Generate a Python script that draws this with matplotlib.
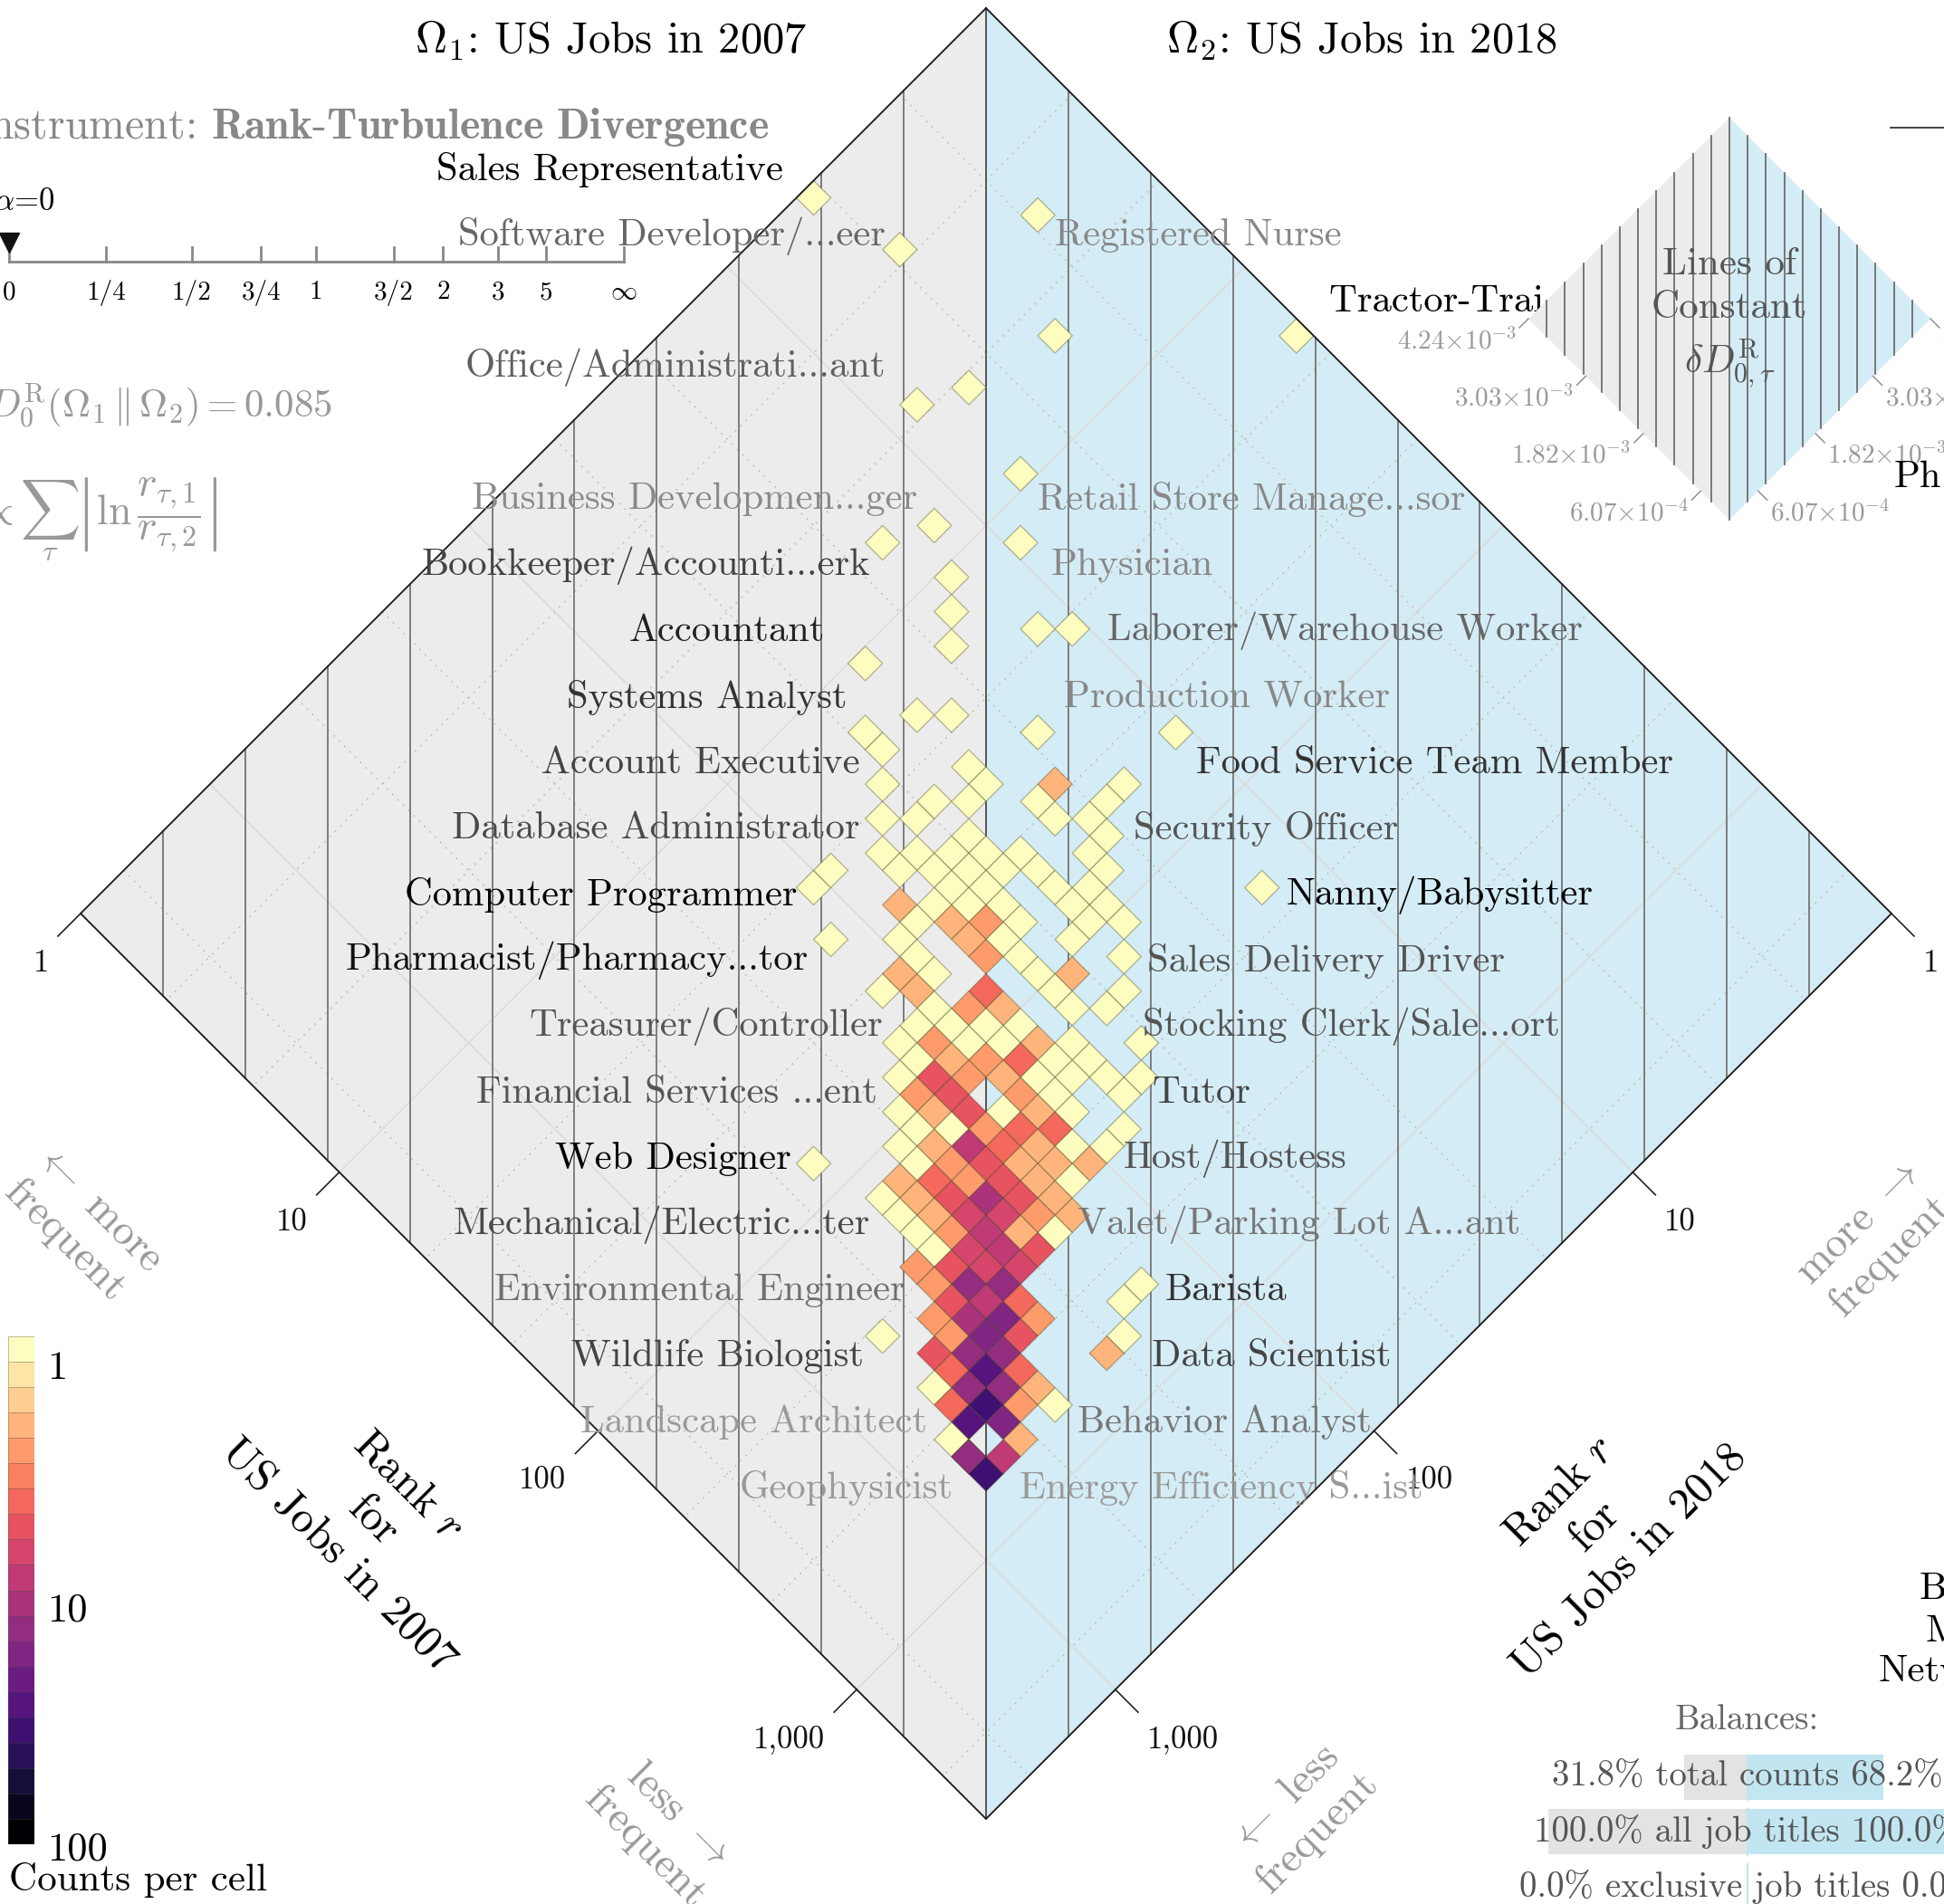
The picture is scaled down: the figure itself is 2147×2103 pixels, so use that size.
import numpy as np
import matplotlib
matplotlib.use('Agg')
import matplotlib.pyplot as plt
from matplotlib.colors import ListedColormap, BoundaryNorm
from matplotlib.transforms import Affine2D
from matplotlib.patches import Polygon, Rectangle
from matplotlib.collections import PolyCollection

plt.rcParams['font.family'] = ['cmr10']
plt.rcParams['mathtext.fontset'] = 'cm'
plt.rcParams['axes.unicode_minus'] = False

# ---------------------------------------------------------------- data
# occupied histogram cells: log10-rank bin (15 bins per decade) in 2007 / 2018, with counts
cells_2007 = [0, 4, 7, 11, 18, 10, 9, 14, 13, 12, 16, 15,
              16, 17, 19, 20, 15, 18, 19, 22, 26, 17, 18, 19, 21, 22, 24, 24, 25, 26, 26, 26, 27, 20, 21, 21, 22, 23,
              33, 28, 22, 20, 20, 35, 41, 41, 42, 42,
              21, 22, 23, 24, 25, 27, 22, 23, 24, 25, 26, 28, 24, 25, 27, 28, 23, 24, 25, 26, 28, 29,
              24, 25, 26, 27, 29, 30, 24, 26, 27, 29, 25, 27, 28, 31, 25, 26, 29, 30, 25, 26, 28, 30, 32,
              27, 28, 29, 32, 31, 27, 28, 29, 30,
              27, 28, 29, 30, 31, 32, 34, 28, 29, 30, 31, 32, 33, 28, 29, 30, 31, 32, 33, 34, 35,
              29, 30, 32, 33, 35, 29, 30, 31, 32, 33, 34, 30, 31, 32, 33, 34, 36,
              30, 31, 32, 33, 34, 35, 36, 31, 32, 33, 34, 35, 36, 31, 32, 33, 34, 35, 36,
              31, 32, 33, 34, 35, 36, 32, 33, 34, 35, 36, 37, 33, 34, 35, 36, 37, 34, 35, 36, 37, 34, 35, 36, 37,
              35, 36, 37, 36, 37, 38, 36, 37, 38, 39, 37, 38, 39, 37, 38, 39, 38, 39, 40,
              38, 39, 40, 41, 39, 40, 41, 42, 40, 41, 40, 41, 42, 41, 42, 42]
cells_2018 = [10, 9, 4, 7, 0, 11, 13, 12, 16, 18, 14, 17,
              18, 19, 16, 15, 22, 22, 21, 19, 15, 24, 24, 25, 22, 22, 20, 21, 21, 18, 19, 20, 20, 26, 25, 24, 23, 24,
              17, 38, 31, 30, 29, 41, 32, 33, 34, 35,
              27, 26, 25, 24, 23, 21, 27, 26, 25, 24, 23, 21, 26, 25, 23, 22, 28, 27, 26, 25, 23, 22,
              28, 27, 26, 25, 23, 22, 29, 27, 26, 24, 29, 27, 26, 23, 30, 29, 26, 25, 31, 30, 28, 26, 24,
              30, 29, 28, 25, 26, 31, 30, 29, 28,
              32, 31, 30, 29, 28, 27, 25, 32, 31, 30, 29, 28, 27, 33, 32, 31, 30, 29, 28, 27, 26,
              33, 32, 30, 29, 27, 34, 33, 32, 31, 30, 29, 34, 33, 32, 31, 30, 28,
              35, 34, 33, 32, 31, 30, 29, 35, 34, 33, 32, 31, 30, 36, 35, 34, 33, 32, 31,
              37, 36, 35, 34, 33, 32, 37, 36, 35, 34, 33, 32, 37, 36, 35, 34, 33, 37, 36, 35, 34, 38, 37, 36, 35,
              38, 37, 36, 38, 37, 36, 39, 38, 37, 36, 39, 38, 37, 40, 39, 38, 40, 39, 38,
              41, 40, 39, 38, 41, 40, 39, 38, 41, 40, 42, 42, 40, 42, 41, 42]
cell_counts = [1, 1, 1, 1, 1, 1, 1, 1, 1, 1, 1, 1,
               1, 1, 1, 1, 1, 1, 1, 1, 1, 1, 1, 1, 1, 1, 2, 1, 1, 1, 1, 1, 1, 1, 1, 1, 1, 1,
               1, 1, 1, 1, 1, 1, 1, 1, 1, 2,
               1, 1, 1, 1, 1, 1, 1, 1, 1, 1, 1, 1, 1, 1, 1, 1, 2, 1, 1, 1, 1, 1,
               1, 2, 3, 1, 1, 1, 1, 2, 1, 1, 1, 3, 1, 1, 2, 1, 1, 2, 1, 2, 4, 1, 1,
               1, 3, 2, 1, 1, 1, 1, 1, 1,
               1, 3, 1, 1, 2, 1, 1, 1, 2, 3, 4, 1, 1, 1, 6, 3, 2, 1, 1, 1, 1,
               3, 6, 3, 1, 1, 1, 2, 6, 1, 2, 1, 1, 1, 3, 4, 5, 1,
               1, 2, 8, 4, 2, 1, 1, 1, 3, 6, 2, 2, 2, 2, 5, 3, 6, 2, 1,
               1, 2, 6, 12, 6, 2, 1, 2, 7, 7, 3, 2, 1, 3, 8, 2, 1, 1, 7, 8, 6, 3, 6, 7, 7,
               3, 13, 13, 6, 8, 4, 3, 10, 17, 3, 3, 17, 6, 6, 14, 14, 4, 28, 4,
               1, 14, 14, 2, 4, 35, 3, 1, 28, 17, 1, 55, 2, 14, 8, 35]

left_names = ["Sales Representative", "Software Developer/...eer", "Office/Administrati...ant",
              "Business Developmen...ger", "Bookkeeper/Accounti...erk", "Accountant",
              "Systems Analyst", "Account Executive", "Database Administrator",
              "Computer Programmer", "Pharmacist/Pharmacy...tor", "Treasurer/Controller",
              "Financial Services ...ent", "Web Designer", "Mechanical/Electric...ter",
              "Environmental Engineer", "Wildlife Biologist", "Landscape Architect", "Geophysicist"]
right_names = ["Registered Nurse", "Tractor-Trailer Truck Driver", "Retail Store Manage...sor",
               "Physician", "Laborer/Warehouse Worker", "Production Worker",
               "Food Service Team Member", "Security Officer", "Nanny/Babysitter",
               "Sales Delivery Driver", "Stocking Clerk/Sale...ort", "Tutor", "Host/Hostess",
               "Valet/Parking Lot A...ant", "Barista", "Data Scientist", "Behavior Analyst",
               "Energy Efficiency S...ist"]

balance_names = ["total counts", "all job titles", "exclusive job titles"]
balance_2007 = [31.8, 100.0, 0.0]
balance_2018 = [68.2, 100.0, 0.0]

alpha_labels = ['0', '1/4', '1/2', '3/4', '1', '3/2', '2', '3', '5', r'$\infty$']
rank_ticks = [1, 10, 100, 1000]
rank_tick_labels = ['1', '10', '100', '1,000']
ddiv_ticks = [r'6.07$\times$10$^{-4}$', r'1.82$\times$10$^{-3}$',
              r'3.03$\times$10$^{-3}$', r'4.24$\times$10$^{-3}$']

# ---------------------------------------------------------------- layout
W, H = 2147, 2103
M = 3.5            # decades on each rank axis
PX = 1000 / M      # pixels per decade
BPD = 15           # bins per decade
X0, Y0 = 1089, 9   # top corner of the diamond in pixels


def P(x, y):
    return (x - X0) / PX, (y - Y0) / PX


left_rows = [0, 1, 3, 5, 6, 7, 8, 9, 10, 11, 12, 13, 14, 15, 16, 17, 18, 19, 20]
left_xend = [865, 978, 978, 1013, 961, 911, 935, 950, 949, 880, 893, 975, 969, 874, 961, 1000, 954, 1024, 1053]
left_col = ['#000000', '#666666', '#606060', '#8a8a8a', '#444444', '#222222', '#333333', '#444444',
            '#4a4a4a', '#000000', '#111111', '#555555', '#555555', '#000000', '#4a4a4a', '#707070',
            '#444444', '#9a9a9a', '#9a9a9a']
right_rows = [1, 2, 5, 6, 7, 8, 9, 10, 11, 12, 13, 14, 15, 16, 17, 18, 19, 20]
right_x = [1165, 1468, 1146, 1161, 1223, 1175, 1321, 1252, 1421, 1267, 1262, 1272, 1241, 1190, 1286, 1272, 1190, 1126]
right_col = ['#888888', '#000000', '#888888', '#888888', '#666666', '#888888', '#333333', '#555555',
             '#000000', '#555555', '#555555', '#444444', '#555555', '#777777', '#333333', '#444444',
             '#777777', '#9a9a9a']
alpha_frac = [0, .158, .297, .410, .499, .626, .706, .796, .873, 1]

fig = plt.figure(figsize=(W / 100, H / 100), dpi=100)
ax = fig.add_axes([0, 0, 1, 1])
ax.set_xlim(-X0 / PX, (W - X0) / PX)
ax.set_ylim((H - Y0) / PX, -Y0 / PX)
ax.axis('off')

# (log10 r_2007, log10 r_2018) -> rotated screen coordinates
uv = Affine2D(np.array([[1., -1., 0.], [1., 1., 0.], [0., 0., 1.]])) + ax.transData

ax.add_patch(Polygon([(0, 0), (0, M), (M, M)], fc='#ececec', ec='none', transform=uv, zorder=0))
ax.add_patch(Polygon([(0, 0), (M, 0), (M, M)], fc='#d4ecf5', ec='none', transform=uv, zorder=0))

# light decade lines and dotted minor grid
for k in range(1, 4):
    ax.plot([k, k], [0, M], color='#dcdcdc', lw=1.3, transform=uv, zorder=1)
    ax.plot([0, M], [k, k], color='#dcdcdc', lw=1.3, transform=uv, zorder=1)
for k in np.arange(1, 11) / 3:
    if abs(k - round(k)) < 1e-6:
        continue
    ax.plot([k, k], [0, M], color='#bdbdbd', lw=1.2, ls=(0, (1, 4)), transform=uv, zorder=1)
    ax.plot([0, M], [k, k], color='#bdbdbd', lw=1.2, ls=(0, (1, 4)), transform=uv, zorder=1)

# lines of constant divergence contribution
for k in range(-10, 11):
    x = k * M / 11
    ax.plot([x, x], [abs(x), 2 * M - abs(x)], color='#555555' if k == 0 else '#7d7d7d',
            lw=1.4, zorder=2)

# histogram cells
cmap = ListedColormap(plt.get_cmap('magma')(np.linspace(1, 0, 20)))
norm = BoundaryNorm(10 ** (np.arange(21) / 10), 20, clip=True)
verts = [[(i / BPD, j / BPD), ((i + 1) / BPD, j / BPD), ((i + 1) / BPD, (j + 1) / BPD),
          (i / BPD, (j + 1) / BPD)] for i, j in zip(cells_2007, cells_2018)]
cells = PolyCollection(verts, cmap=cmap, norm=norm, edgecolors=(0.25, 0.25, 0.1, 0.35),
                       linewidths=1.0, transform=uv, zorder=3)
cells.set_array(np.array(cell_counts, dtype=float))
ax.add_collection(cells)

ax.plot([0, M, M, 0, 0], [0, 0, M, M, 0], color='#222222', lw=1.4, transform=uv, zorder=4)

# rank axes ticks and labels
for r, lab in zip(rank_ticks, rank_tick_labels):
    k = np.log10(r)
    xl, yl = k - M, k + M
    ax.plot([xl, xl - 25 / PX], [yl, yl + 25 / PX], color='#222222', lw=1.2)
    ax.text(xl - 35 / PX, yl + 55 / PX, lab, ha='right', va='center', fontsize=25, color='#111111')
    xr, yr = M - k, M + k
    ax.plot([xr, xr + 25 / PX], [yr, yr + 25 / PX], color='#222222', lw=1.2)
    ax.text(xr + 35 / PX, yr + 55 / PX, lab, ha='left', va='center', fontsize=25, color='#111111')

ax.text(*P(412, 1680), 'Rank $r$\nfor\nUS Jobs in 2007', rotation=-45, ha='center', va='center',
        fontsize=35, linespacing=1.3, rotation_mode='anchor')
ax.text(*P(1761, 1686), 'Rank $r$\nfor\nUS Jobs in 2018', rotation=45, ha='center', va='center',
        fontsize=35, linespacing=1.3, rotation_mode='anchor')
ax.text(*P(90, 1352), '$\\leftarrow$ more\nfrequent', rotation=-45, ha='center', va='center',
        fontsize=34, color='#999999', linespacing=1.3, rotation_mode='anchor')
ax.text(*P(2070, 1369), 'more $\\rightarrow$\nfrequent', rotation=45, ha='center', va='center',
        fontsize=34, color='#999999', linespacing=1.3, rotation_mode='anchor')
ax.text(*P(731, 2022), 'less $\\rightarrow$\nfrequent', rotation=-45, ha='center', va='center',
        fontsize=34, color='#999999', linespacing=1.3, rotation_mode='anchor')
ax.text(*P(1437, 2006), '$\\leftarrow$ less\nfrequent', rotation=45, ha='center', va='center',
        fontsize=34, color='#999999', linespacing=1.3, rotation_mode='anchor')

# titles
ax.text(*P(675, 45), r'$\Omega_1$: US Jobs in 2007', ha='center', va='center', fontsize=35)
ax.text(*P(1504, 45), r'$\Omega_2$: US Jobs in 2018', ha='center', va='center', fontsize=35)

# item labels
for name, row, xe, col in zip(left_names, left_rows, left_xend, left_col):
    ax.text(*P(xe, 187.6 + 72.8 * row), name, ha='right', va='center', fontsize=30.7, color=col, zorder=5)
for name, row, xs, col in zip(right_names, right_rows, right_x, right_col):
    ax.text(*P(xs, 187.6 + 72.8 * row), name, ha='left', va='center', fontsize=30.7, color=col, zorder=5)

# instrument + alpha slider + divergence
ax.text(*P(849, 141), r'Instrument: $\mathbf{Rank}$-$\mathbf{Turbulence\ Divergence}$',
        ha='right', va='center', fontsize=34.5, color='#888888')
ax.text(*P(60, 223), r'$\alpha$=0', ha='right', va='center', fontsize=25)
ax.plot([P(10, 0)[0], P(689, 0)[0]], [P(0, 289)[1]] * 2, color='#888888', lw=2)
for f, lab in zip(alpha_frac, alpha_labels):
    xa = P(10 + 679 * f, 0)[0]
    ax.plot([xa, xa], [P(0, 289)[1], P(0, 273)[1]], color='#888888', lw=2)
    ax.text(xa, P(0, 323)[1], lab, ha='center', va='center', fontsize=21)
ax.plot(*P(10, 268), marker='v', ms=16, color='#111111')
ax.text(*P(367, 449), r'$D^{\mathrm{R}}_{0}(\Omega_1\,\|\,\Omega_2) = 0.085$', ha='right', va='center',
        fontsize=31, color='#999999')
ax.text(*P(240, 573), r'$\propto\sum_{\tau}\left|\ln\dfrac{r_{\tau,1}}{r_{\tau,2}}\right|$', ha='right',
        va='center', fontsize=33, color='#999999')

# inset: lines of constant divergence
ax.add_patch(Rectangle(P(1704, 95), (W - 1704) / PX, 505 / PX, fc='white', ec='none', zorder=6))
ix, iy = P(1910, 130)
ins = Affine2D().scale(222 / PX).translate(ix, iy) + ax.transData
ax.add_patch(Polygon([(0, 0), (-1, 1), (0, 2)], fc='#ececec', ec='none', transform=ins, zorder=7))
ax.add_patch(Polygon([(0, 0), (1, 1), (0, 2)], fc='#d4ecf5', ec='none', transform=ins, zorder=7))
for k in range(-10, 11):
    x = k / 11
    ax.plot([x, x], [abs(x), 2 - abs(x)], color='#6e6e6e', lw=1.3, transform=ins, zorder=8)
for k, lab in zip([1, 3, 5, 7], ddiv_ticks):
    t = k / 7
    for sgn, ha in [(-1, 'right'), (1, 'left')]:
        ax.plot([sgn * t, sgn * (t + 0.045)], [2 - t, 2 - t + 0.045], color='#888888', lw=1,
                transform=ins, zorder=8)
        ax.text(sgn * (t + 0.06), 2 - t + 0.11, lab, ha=ha, va='center', fontsize=21,
                color='#999999', transform=ins, zorder=8)
ax.text(0, 1.0, 'Lines of\nConstant\n' + r'$\delta D^{\mathrm{R}}_{0,\tau}$', ha='center', va='center',
        fontsize=31, color='#555555', linespacing=1.35, transform=ins, zorder=9)
ax.plot([P(2088, 0)[0], P(W, 0)[0]], [P(0, 141)[1]] * 2, color='#222222', lw=1.2, zorder=9)
ax.text(*P(2092, 527), 'Ph', ha='left', va='center', fontsize=30.7, zorder=10)
for txt, xs, ys in [('B', 2120, 1755), ('M', 2127, 1802), ('Netw', 2075, 1846)]:
    ax.text(*P(xs, ys), txt, ha='left', va='center', fontsize=31)

# balances
ax.text(*P(1929, 1900), 'Balances:', ha='center', va='center', fontsize=28, color='#666666')
xd = P(1930, 0)[0]
for k, (name, a, b) in enumerate(zip(balance_names, balance_2007, balance_2018)):
    yb = P(0, 1963 + 60.5 * k)[1]
    ax.barh(yb, -a / 100 * 220 / PX, left=xd, height=50 / PX, color='#e3e3e3', zorder=2)
    ax.barh(yb, b / 100 * 220 / PX, left=xd, height=50 / PX, color='#c2e6f1', zorder=2)
    ax.plot([xd, xd], [yb - 25 / PX, yb + 25 / PX], color='#c2e6f1', lw=1.5, zorder=2)
    ax.text(xd, yb, f'{a:.1f}% {name} {b:.1f}%', ha='center', va='center', fontsize=28,
            color='#555555', zorder=3)

# colorbar
cax = fig.add_axes([9 / W, 1 - 2037 / H, 29 / W, 561 / H])
cax.pcolormesh([0, 1], np.arange(21), np.arange(20).reshape(20, 1), cmap=cmap, vmin=-0.5, vmax=19.5,
               edgecolors=(0.3, 0.3, 0.3, 0.35), linewidth=0.6)
cax.set_ylim(20, 0)
cax.axis('off')
for lab, yl in [('1', 1512), ('10', 1779), ('100', 2043)]:
    ax.text(*P(52, yl), lab, ha='left', va='center', fontsize=32)
ax.text(*P(10, 2077), 'Counts per cell', ha='left', va='center', fontsize=31)

fig.savefig('out.png', dpi=100)
